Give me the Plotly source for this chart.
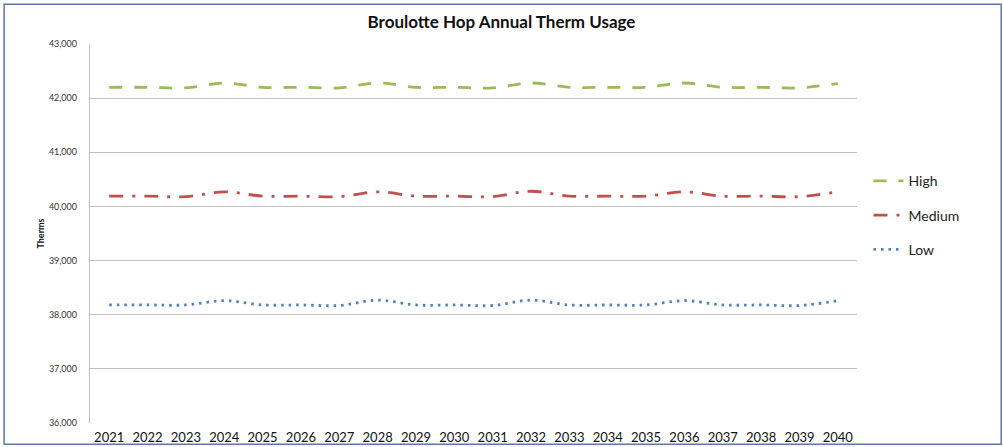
import plotly.graph_objects as go

years = [str(y) for y in range(2021, 2041)]

high = [42200, 42200, 42190, 42280, 42200, 42200, 42190, 42280, 42200, 42200,
        42190, 42280, 42200, 42200, 42200, 42280, 42200, 42200, 42190, 42270]
medium = [40190, 40190, 40180, 40270, 40190, 40190, 40180, 40270, 40190, 40190,
          40180, 40280, 40190, 40190, 40190, 40270, 40190, 40190, 40180, 40270]
low = [38180, 38180, 38180, 38260, 38180, 38180, 38170, 38270, 38180, 38180,
       38170, 38270, 38180, 38180, 38180, 38260, 38180, 38180, 38170, 38260]

y_ticks = [36000, 37000, 38000, 39000, 40000, 41000, 42000, 43000]

FONT = "Lato, 'Open Sans', sans-serif"

fig = go.Figure()
series = [
    ("High", high, "#9BBB59", "13px,12px"),
    ("Medium", medium, "#C0504D", "14px,9px,3px,9px"),
    ("Low", low, "#4F81BD", "2.5px,5px"),
]
for name, vals, color, dash in series:
    fig.add_trace(
        go.Scatter(
            x=years,
            y=vals,
            name=name,
            legendgroup=name,
            mode="lines",
            line={"color": color, "width": 2.8, "dash": dash, "shape": "spline"},
        )
    )

fig.update_layout(
    width=1003,
    height=447,
    margin={"l": 90, "r": 146, "t": 44, "b": 24},
    paper_bgcolor="white",
    plot_bgcolor="white",
    font={"family": FONT, "color": "#222"},
    title={
        "text": "<b>Broulotte Hop Annual Therm Usage</b>",
        "x": 0.5,
        "xanchor": "center",
        "y": 0.95,
        "yanchor": "middle",
        "font": {"size": 17, "color": "#111"},
    },
    legend={
        "x": 1.015,
        "y": 0.68,
        "xanchor": "left",
        "yanchor": "top",
        "font": {"size": 14, "color": "#222"},
        "traceorder": "grouped",
        "tracegroupgap": 13,
        "itemwidth": 30,
    },
    xaxis={
        "type": "category",
        "range": [-0.5, 19.5],
        "showgrid": False,
        "showline": False,
        "ticks": "",
        "automargin": False,
        "ticklabelstandoff": 5,
        "tickfont": {"size": 13, "color": "#111"},
        "fixedrange": True,
    },
    yaxis={
        "range": [36000, 43000],
        "tickvals": y_ticks,
        "tickformat": ",d",
        "showgrid": True,
        "gridcolor": "#BFBFBF",
        "gridwidth": 1.3,
        "showline": True,
        "linecolor": "#BFBFBF",
        "linewidth": 1.3,
        "zeroline": False,
        "ticks": "",
        "automargin": False,
        "ticklabelstandoff": 10,
        "tickfont": {"size": 9, "color": "#333"},
        "title": {"text": "<b>Therms</b>", "font": {"size": 9, "color": "#111"}, "standoff": 2},
        "fixedrange": True,
    },
)

# Rahmen um das gesamte Diagramm
fig.add_shape(
    type="rect",
    xref="paper",
    yref="paper",
    x0=-0.112,
    x1=1.188,
    y0=-0.056,
    y1=1.105,
    line={"color": "#5A77A8", "width": 1.5},
    layer="below",
)

# Seitenrand des Browsers entfernen, damit die Figur bei (0,0) beginnt
fig.write_html(
    "out.html",
    config={"displayModeBar": False},
    post_script="document.body.style.margin='0';",
)
